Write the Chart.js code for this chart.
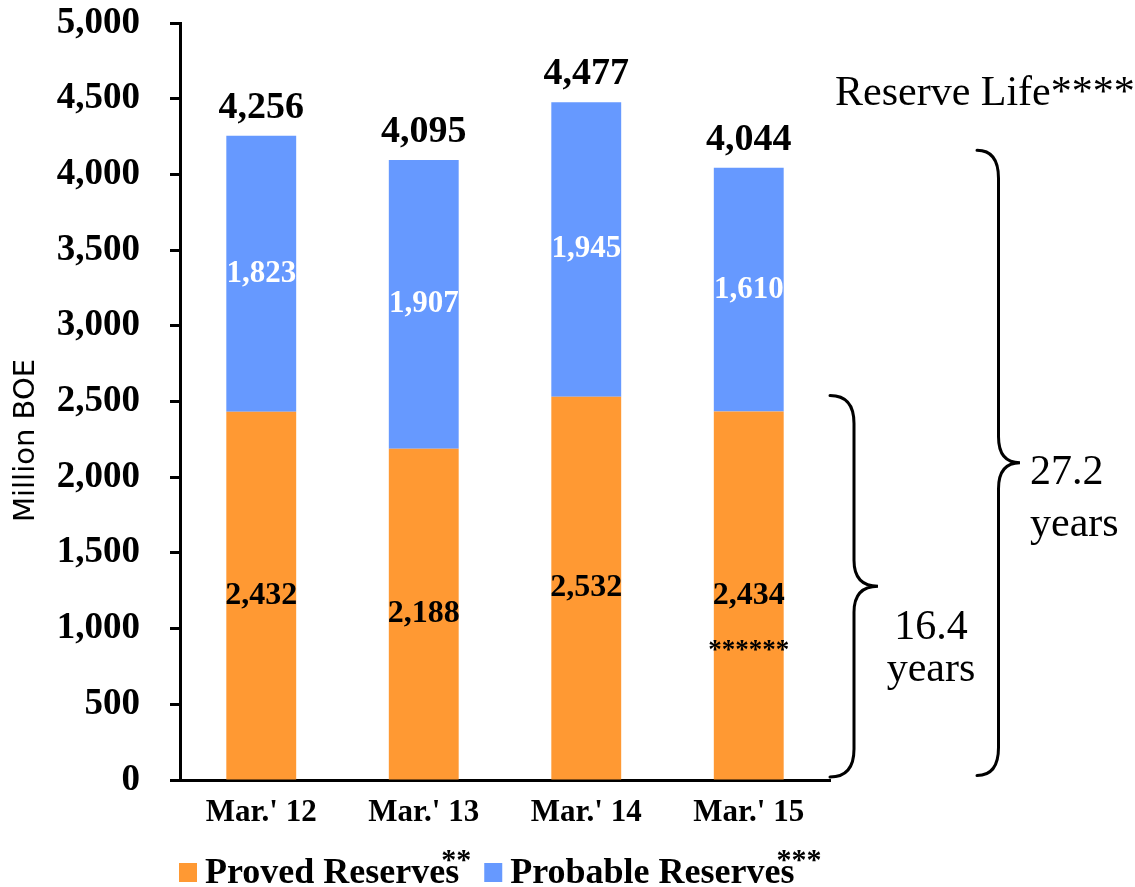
<!DOCTYPE html>
<html><head><meta charset="utf-8">
<script src="https://cdn.jsdelivr.net/npm/chart.js@4"></script>
<style>html,body{margin:0;padding:0;background:#fff}#wrap{width:1135px;height:887px;position:relative}</style>
</head><body><div id="wrap"><canvas id="c"></canvas></div>
<script>
// ---- data ----
const categories = ["Mar.' 12", "Mar.' 13", "Mar.' 14", "Mar.' 15"];
const provedReserves = [2432, 2188, 2532, 2434];
const probableReserves = [1823, 1907, 1945, 1610];
const totalLabels = [4256, 4095, 4477, 4044];
const provedNotes = ['', '', '', '******'];
const seriesNames = ['Proved Reserves', 'Probable Reserves'];
const legendNotes = ['**', '***'];
const yAxisTitle = 'Million BOE';
const yMin = 0, yMax = 5000, yStep = 500;
const reserveLifeTitle = 'Reserve Life****';
const reserveLifeYears = ['16.4', '27.2'];
const braceRanges = [[20, 2540], [30, 4160]];

// ---- styles ----
const SERIF = '"Liberation Serif", "Times New Roman", serif';
const SANS = '"DejaVu Sans", Verdana, sans-serif';
const ORANGE = '#FF9933', BLUE = '#6699FF';
const fmt = v => Number(v).toLocaleString('en-US');

function drawBrace(ctx, x0, yTop, yBot, w) {
  const x1 = x0 + w / 2, x2 = x0 + w, yMid = (yTop + yBot) / 2, r = 28, rt = 26;
  ctx.beginPath();
  ctx.moveTo(x0, yTop);
  ctx.quadraticCurveTo(x1, yTop, x1, yTop + r);
  ctx.lineTo(x1, yMid - rt);
  ctx.quadraticCurveTo(x1, yMid, x2, yMid);
  ctx.quadraticCurveTo(x1, yMid, x1, yMid + rt);
  ctx.lineTo(x1, yBot - r);
  ctx.quadraticCurveTo(x1, yBot, x0, yBot);
  ctx.stroke();
  return {tipX: x2, tipY: yMid};
}

const annot = {
  id: 'annot',
  afterDatasetsDraw(chart) {
    const ctx = chart.ctx;
    const m0 = chart.getDatasetMeta(0), m1 = chart.getDatasetMeta(1);
    ctx.save();
    ctx.textAlign = 'center';
    m0.data.forEach((bar, i) => {
      const cy = (bar.y + bar.base) / 2;
      ctx.textBaseline = 'middle';
      ctx.fillStyle = '#000';
      ctx.font = 'bold 32px ' + SERIF;
      ctx.fillText(fmt(provedReserves[i]), bar.x, cy);
      if (provedNotes[i]) {
        ctx.font = 'bold 27px ' + SERIF;
        ctx.fillText(provedNotes[i], bar.x, cy + 56);
      }
    });
    m1.data.forEach((bar, i) => {
      const cy = (bar.y + bar.base) / 2;
      ctx.textBaseline = 'middle';
      ctx.fillStyle = '#fff';
      ctx.font = 'bold 31px ' + SERIF;
      ctx.fillText(fmt(probableReserves[i]), bar.x, cy);
      ctx.textBaseline = 'alphabetic';
      ctx.fillStyle = '#000';
      ctx.font = 'bold 38px ' + SERIF;
      ctx.fillText(fmt(totalLabels[i]), bar.x, bar.y - 18);
    });
    ctx.restore();
  },
  afterDraw(chart) {
    const ctx = chart.ctx, area = chart.chartArea, ys = chart.scales.y;
    ctx.save();
    // y axis title
    ctx.save();
    ctx.translate(26, ys.getPixelForValue(yMax) + (area.bottom - area.top) / 2 + 39);
    ctx.rotate(-Math.PI / 2);
    ctx.fillStyle = '#000';
    ctx.font = '29px ' + SANS;
    ctx.textAlign = 'center';
    ctx.textBaseline = 'middle';
    ctx.fillText(yAxisTitle, 0, 0);
    ctx.restore();
    // Reserve life title
    ctx.fillStyle = '#000';
    ctx.textBaseline = 'alphabetic';
    ctx.textAlign = 'left';
    ctx.font = '42px ' + SERIF;
    ctx.fillText(reserveLifeTitle, area.right + 5, area.top + 82);
    // braces
    ctx.strokeStyle = '#000';
    ctx.lineWidth = 3;
    ctx.lineCap = 'round';
    const b0 = drawBrace(ctx, area.right, ys.getPixelForValue(braceRanges[0][1]), ys.getPixelForValue(braceRanges[0][0]), 48);
    const b1 = drawBrace(ctx, area.right + 147, ys.getPixelForValue(braceRanges[1][1]), ys.getPixelForValue(braceRanges[1][0]), 43);
    ctx.font = '42px ' + SERIF;
    ctx.textAlign = 'center';
    ctx.fillText(reserveLifeYears[0], b0.tipX + 53, b0.tipY + 53);
    ctx.fillText('years', b0.tipX + 53, b0.tipY + 95);
    ctx.textAlign = 'left';
    ctx.fillText(reserveLifeYears[1], b1.tipX + 10, b1.tipY + 21);
    ctx.fillText('years', b1.tipX + 10, b1.tipY + 73);
    // legend
    let x = area.left - 1;
    const boxTop = 863, base = 883;
    chart.data.datasets.forEach((ds, i) => {
      ctx.fillStyle = ds.backgroundColor;
      ctx.fillRect(x, boxTop, 18, 19);
      x += 26;
      ctx.fillStyle = '#000';
      ctx.font = 'bold 36px ' + SERIF;
      ctx.textAlign = 'left';
      ctx.fillText(ds.label, x, base);
      x += ctx.measureText(ds.label).width - 18;
      ctx.font = 'bold 30px ' + SERIF;
      ctx.fillText(legendNotes[i], x, base - 14);
      x += ctx.measureText(legendNotes[i]).width + 13;
    });
    ctx.restore();
  }
};

new Chart(document.getElementById('c'), {
  type: 'bar',
  data: {
    labels: categories,
    datasets: [
      {label: seriesNames[0], data: provedReserves, backgroundColor: ORANGE, barPercentage: 0.43, categoryPercentage: 1},
      {label: seriesNames[1], data: probableReserves, backgroundColor: BLUE, barPercentage: 0.43, categoryPercentage: 1}
    ]
  },
  options: {
    responsive: true,
    maintainAspectRatio: false,
    animation: false,
    layout: {padding: {left: 0, right: 305, top: 23, bottom: 0}},
    plugins: {legend: {display: false}, tooltip: {enabled: false}},
    scales: {
      x: {
        stacked: true,
        grid: {display: false, drawTicks: false},
        border: {display: true, color: '#000', width: 3},
        ticks: {color: '#000', font: {family: SERIF, size: 31, weight: 'bold'}, padding: 14, maxRotation: 0},
        afterFit(s) { s.height = 107; s.paddingLeft = 0; s.paddingRight = 0; }
      },
      y: {
        stacked: true,
        min: yMin, max: yMax,
        ticks: {stepSize: yStep, color: '#000', font: {family: SERIF, size: 37, weight: 'bold'}, padding: 30, callback: v => fmt(v)},
        grid: {drawOnChartArea: false, drawTicks: true, tickLength: 10, tickColor: '#000', tickWidth: 3, color: '#000'},
        border: {display: true, color: '#000', width: 3},
        title: {display: false},
        afterFit(s) { s.width = 180; s.paddingTop = 0; s.paddingBottom = 0; }
      }
    }
  },
  plugins: [annot]
});
</script>
</body></html>
